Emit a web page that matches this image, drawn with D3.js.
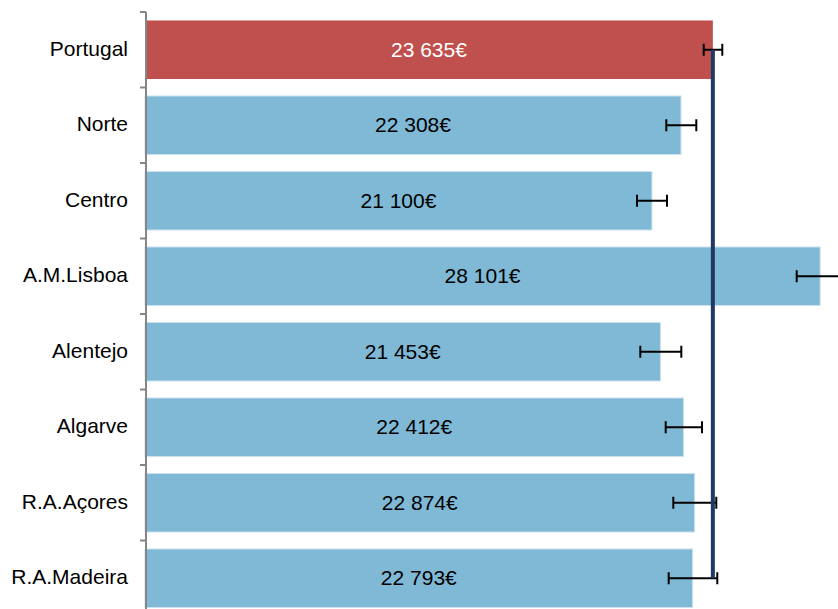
<!DOCTYPE html>
<html>
<head>
<meta charset="utf-8">
<script src="https://cdn.jsdelivr.net/npm/d3@7"></script>
<style>
  html, body { margin: 0; padding: 0; background: #fff; }
  svg { display: block; font-family: "Liberation Sans", Arial, sans-serif; }
</style>
</head>
<body>
<svg id="chart" width="838" height="609"></svg>
<script>
const categories = ["Portugal", "Norte", "Centro", "A.M.Lisboa", "Alentejo", "Algarve", "R.A.Açores", "R.A.Madeira"];
const values = [23635, 22308, 21100, 28101, 21453, 22412, 22874, 22793];
const errLow = [23254, 21697, 20478, 27125, 20615, 21672, 21989, 21797];
const errHigh = [24028, 22946, 21727, 29077, 22322, 23183, 23778, 23820];
const labels = ["23 635€", "22 308€", "21 100€", "28 101€", "21 453€", "22 412€", "22 874€", "22 793€"];
const referenceValue = 23635;

const svg = d3.select("#chart");
const x = d3.scaleLinear().domain([0, 30000]).range([145, 145 + 30000 * 0.024026]);
const y = d3.scaleBand().domain(categories).range([12, 616]).paddingInner(0.225).paddingOuter(0.1125);
const step = y.step();
const halfGap = step * 0.225 / 2;

// bars
svg.append("g").selectAll("rect").data(categories).join("rect")
  .attr("x", x(0))
  .attr("y", d => y(d))
  .attr("width", (d, i) => x(values[i]) - x(0))
  .attr("height", y.bandwidth())
  .attr("fill", (d, i) => i === 0 ? "#C0504D" : "#7FB9D6")
  .attr("stroke", (d, i) => i === 0 ? "none" : "#CBE2EF")
  .attr("stroke-width", 1);

// value labels
svg.append("g").selectAll("text").data(categories).join("text")
  .attr("x", (d, i) => (x(0) + x(values[i])) / 2)
  .attr("y", d => y(d) + y.bandwidth() / 2)
  .attr("dy", "0.34em")
  .attr("text-anchor", "middle")
  .attr("font-size", 21)
  .attr("fill", (d, i) => i === 0 ? "#ffffff" : "#000000")
  .text((d, i) => labels[i]);

// error bars
const eb = svg.append("g").attr("stroke", "#000").attr("stroke-width", 2);
categories.forEach((c, i) => {
  const cy = y(c) + y.bandwidth() / 2;
  eb.append("line").attr("x1", x(errLow[i])).attr("x2", x(errHigh[i])).attr("y1", cy).attr("y2", cy);
  eb.append("line").attr("x1", x(errLow[i])).attr("x2", x(errLow[i])).attr("y1", cy - 6).attr("y2", cy + 6);
  eb.append("line").attr("x1", x(errHigh[i])).attr("x2", x(errHigh[i])).attr("y1", cy - 6).attr("y2", cy + 6);
});

// reference line
svg.append("line")
  .attr("x1", x(referenceValue)).attr("x2", x(referenceValue))
  .attr("y1", y(categories[0]) + y.bandwidth() / 2)
  .attr("y2", y(categories[categories.length - 1]) + y.bandwidth() / 2)
  .attr("stroke", "#1F3864").attr("stroke-width", 4);

// axis
const axisX = 146;
svg.append("line").attr("x1", axisX).attr("x2", axisX).attr("y1", 12).attr("y2", 616)
  .attr("stroke", "#868686").attr("stroke-width", 2);
const tickYs = categories.map(c => y(c) - halfGap).concat([y(categories[categories.length - 1]) + y.bandwidth() + halfGap]);
svg.append("g").selectAll("line").data(tickYs).join("line")
  .attr("x1", 140).attr("x2", axisX).attr("y1", d => d).attr("y2", d => d)
  .attr("stroke", "#868686").attr("stroke-width", 2);

// category labels
svg.append("g").selectAll("text").data(categories).join("text")
  .attr("x", 128)
  .attr("y", d => y(d) + y.bandwidth() / 2)
  .attr("dy", "0.28em")
  .attr("text-anchor", "end")
  .attr("font-size", 21)
  .attr("fill", "#000")
  .text(d => d);
</script>
</body>
</html>
